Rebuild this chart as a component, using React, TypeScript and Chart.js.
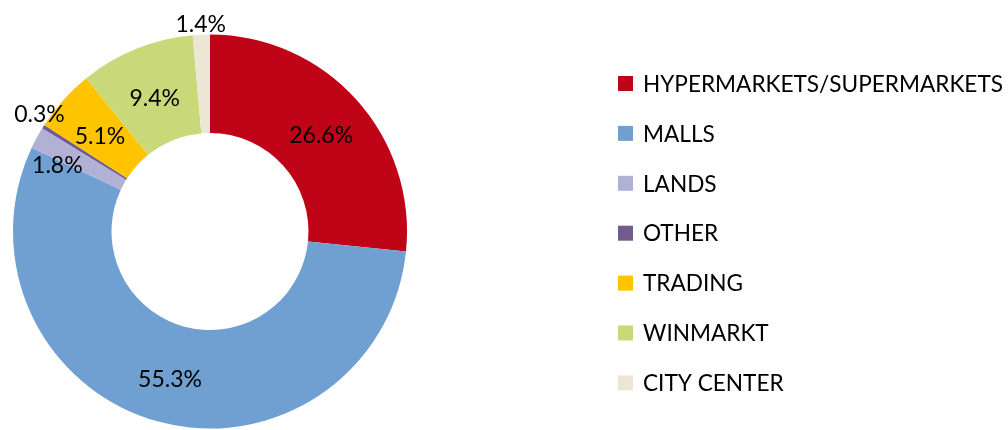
import React, { useEffect, useRef } from "react";
import { Chart, registerables } from "chart.js";

Chart.register(...registerables);

const categories = [
  "HYPERMARKETS/SUPERMARKETS",
  "MALLS",
  "LANDS",
  "OTHER",
  "TRADING",
  "WINMARKT",
  "CITY CENTER",
];
const shares = [26.6, 55.3, 1.8, 0.3, 5.1, 9.4, 1.4];
const valueLabels = ["26.6%", "55.3%", "1.8%", "0.3%", "5.1%", "9.4%", "1.4%"];
const sliceColors = [
  "#C00418",
  "#6FA0D1",
  "#B1B1D6",
  "#735A8F",
  "#FFC400",
  "#C9D879",
  "#EDE6D5",
];
// label placement: radial position as fraction of the outer radius, angle nudge in degrees
const labelRadius = [0.76, 0.76, 0.853, 1.056, 0.75, 0.75, 1.064];
const labelAngleNudge = [0, 0, -3.7, 2.8, 0, 0, 0];

const FONT = "Lato, 'Open Sans', sans-serif";

const sliceLabelPlugin = {
  id: "sliceLabels",
  afterDatasetsDraw(chart: any) {
    const ctx = chart.ctx;
    const meta = chart.getDatasetMeta(0);
    ctx.save();
    ctx.font = `23px ${FONT}`;
    ctx.fillStyle = "#000";
    ctx.textAlign = "center";
    ctx.textBaseline = "middle";
    meta.data.forEach((el: any, i: number) => {
      const p = el.getProps(["x", "y", "startAngle", "endAngle", "outerRadius"], true);
      const mid = (p.startAngle + p.endAngle) / 2 + (labelAngleNudge[i] * Math.PI) / 180;
      const r = p.outerRadius * labelRadius[i];
      const x = p.x + Math.cos(mid) * r;
      const y = p.y + Math.sin(mid) * r + (labelRadius[i] > 1 ? 2 : 4);
      ctx.fillText(valueLabels[i], x, y);
    });
    ctx.restore();
  },
};

const legendPlugin = {
  id: "sideLegend",
  afterDraw(chart: any) {
    const ctx = chart.ctx;
    const labels = chart.data.labels as string[];
    const colors = chart.data.datasets[0].backgroundColor as string[];
    const boxX = 618;
    const boxSize = 15;
    const textX = 643;
    const firstY = 83.5;
    const step = 49.9;
    ctx.save();
    ctx.font = `22.6px ${FONT}`;
    ctx.textAlign = "left";
    ctx.textBaseline = "middle";
    labels.forEach((lab, i) => {
      const cy = firstY + i * step;
      ctx.fillStyle = colors[i];
      ctx.fillRect(boxX, cy - boxSize / 2, boxSize, boxSize);
      ctx.fillStyle = "#000";
      ctx.fillText(lab, textX, cy + 1);
    });
    ctx.restore();
  },
};

export default function App() {
  const canvasRef = useRef<HTMLCanvasElement | null>(null);

  useEffect(() => {
    document.body.style.margin = "0";
    const canvas = canvasRef.current;
    if (!canvas) return;
    const chart = new Chart(canvas, {
      type: "doughnut",
      data: {
        labels: categories,
        datasets: [
          {
            data: shares,
            backgroundColor: sliceColors,
            borderWidth: 0,
            hoverOffset: 0,
          },
        ],
      },
      options: {
        responsive: false,
        animation: false,
        cutout: "50%",
        rotation: 0,
        layout: { padding: { left: 13, right: 601, top: 34, bottom: 1 } },
        plugins: {
          legend: { display: false },
          tooltip: { enabled: false },
        },
      },
      plugins: [sliceLabelPlugin, legendPlugin],
    });
    return () => chart.destroy();
  }, []);

  return (
    <div style={{ width: 1008, height: 430, background: "#fff" }}>
      <canvas ref={canvasRef} width={1008} height={430} style={{ display: "block" }} />
    </div>
  );
}
